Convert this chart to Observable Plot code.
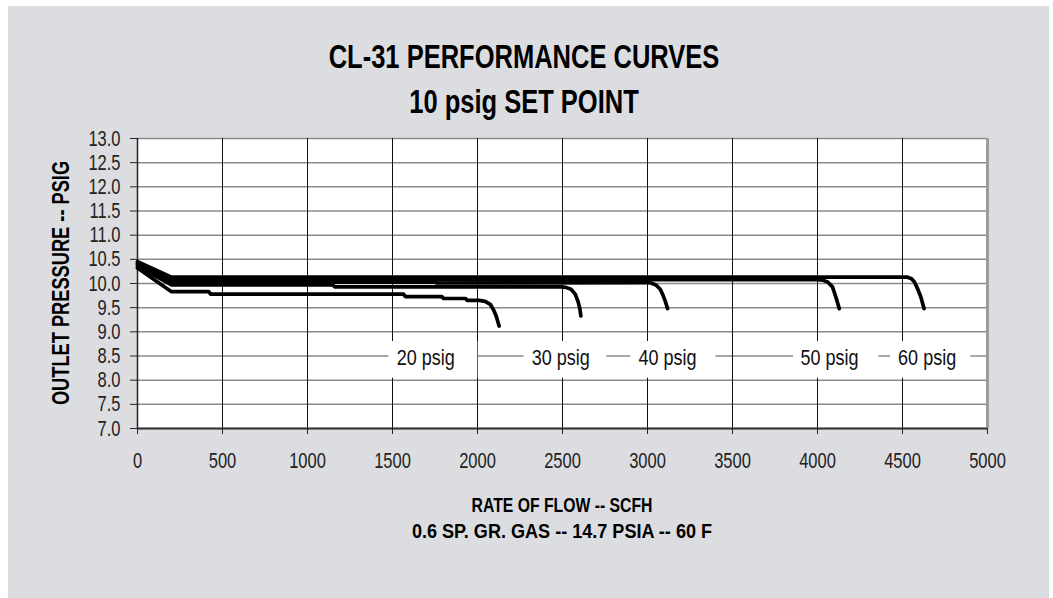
<!DOCTYPE html>
<html><head><meta charset="utf-8">
<script src="https://cdn.jsdelivr.net/npm/d3@7"></script>
<script src="https://cdn.jsdelivr.net/npm/@observablehq/plot@0.6"></script>
<style>
body{margin:0;background:#fff;width:1053px;height:598px;overflow:hidden;position:relative;font-family:"Liberation Sans",Arial,sans-serif;}
#panel{position:absolute;left:8px;top:6px;width:1041px;height:592px;background:#dcdde0;}
#chart{position:absolute;left:0;top:0;}
.t{position:absolute;left:0;width:1048px;text-align:center;font-weight:bold;line-height:1;white-space:nowrap;color:#000;transform:scaleX(0.75);transform-origin:50% 50%;}
.xt{width:1124px}
#ylab{position:absolute;left:61px;top:283px;transform:translate(-50%,-50%) rotate(-90deg) scaleX(0.76);font-weight:bold;font-size:24px;line-height:1;white-space:nowrap;color:#000;}
</style></head>
<body>
<div id="panel"></div>
<div id="chart"></div>
<div class="t" style="top:39px;font-size:34px">CL-31 PERFORMANCE CURVES</div>
<div class="t" style="top:84px;font-size:34px">10 psig SET POINT</div>
<div class="t xt" style="top:494px;font-size:21px">RATE OF FLOW -- SCFH</div>
<div class="t xt" style="top:520px;font-size:21px;transform:scaleX(0.86)">0.6 SP. GR. GAS -- 14.7 PSIA -- 60 F</div>
<div id="ylab">OUTLET PRESSURE -- PSIG</div>
<script>
// Series: inlet pressure curves (flow SCFH, outlet psig)
const flow20 = [0,200,420,430,1565,1575,1790,1800,1930,1940,2010,2045,2075,2095,2110,2127];
const pres20 = [10.32,9.83,9.83,9.78,9.78,9.73,9.73,9.69,9.69,9.65,9.65,9.63,9.57,9.45,9.33,9.12];
const flow30 = [0,200,1150,1160,2490,2520,2550,2575,2592,2602,2608];
const pres30 = [10.36,9.97,9.97,9.93,9.93,9.92,9.88,9.78,9.62,9.48,9.33];
const flow40 = [0,200,1750,1760,2990,3020,3050,3075,3092,3105,3118];
const pres40 = [10.39,10.03,10.03,10.01,10.02,10.01,9.97,9.88,9.75,9.63,9.48];
const flow50 = [0,200,4000,4030,4060,4088,4108,4128];
const pres50 = [10.42,10.08,10.08,10.07,10.03,9.93,9.72,9.48];
const flow60 = [0,200,4530,4553,4570,4588,4608,4627];
const pres60 = [10.45,10.13,10.13,10.1,10.03,9.9,9.72,9.48];

const labelText = ["20 psig","30 psig","40 psig","50 psig","60 psig"];
const labelX = [1696,2490,3118,4071,4645];
const labelY = 8.46;
const boxX1 = [1478,2274,2902,3860,4431];
const boxX2 = [2002,2760,3402,4361,4902];

const xTicks = d3.range(0,5001,500);
const yTicks = d3.range(7,13.001,0.5);

const series = [
  ["20 psig", flow20, pres20],
  ["30 psig", flow30, pres30],
  ["40 psig", flow40, pres40],
  ["50 psig", flow50, pres50],
  ["60 psig", flow60, pres60]
];
const rows = series.flatMap(([name, xs, ys]) => xs.map((x,i)=>({name, flow:x, p:ys[i]})));
const labels = labelText.map((t,i)=>({t, x:labelX[i], y:labelY, x1:boxX1[i], x2:boxX2[i]}));

const font = '"Liberation Sans",Arial,sans-serif';
const chart = Plot.plot({
  width:1053, height:598,
  marginLeft:137, marginRight:66, marginTop:138, marginBottom:170,
  style:{background:"transparent", fontFamily:font, fontSize:"22px", color:"#222"},
  x:{domain:[0,5000]},
  y:{domain:[7,13]},
  marks:[
    Plot.frame({fill:"white", stroke:null}),
    Plot.ruleY(yTicks, {stroke:"#8a8a8a", strokeWidth:1.5}),
    Plot.ruleX(xTicks.filter(d=>d>0&&d<5000), {stroke:"#111", strokeWidth:1}),
    Plot.rect(labels, {x1:"x1", x2:"x2", y1:8.04, y2:8.8, fill:"white"}),
    Plot.ruleX([5000], {stroke:"#9c9c9c", strokeWidth:3}),
    Plot.ruleX([0], {stroke:"#222", strokeWidth:1.5}),
    Plot.ruleY([7], {stroke:"#333", strokeWidth:2}),
    Plot.line(rows, {x:"flow", y:"p", z:"name", stroke:"#000", strokeWidth:3.7, strokeLinejoin:"round", strokeLinecap:"round"}),
    Plot.text(labels, {x:"x", y:"y", text:"t", fontSize:22, fill:"#111", className:"lbl"}),
    Plot.axisX({ticks:xTicks, tickSize:6, tickPadding:18, tickFormat:d=>String(d), label:null, fontSize:22}),
    Plot.axisY({ticks:yTicks, tickSize:7, tickPadding:10, tickFormat:d3.format(".1f"), label:null, fontSize:22})
  ]
});
// condense text horizontally around each text's anchor
chart.querySelectorAll("text").forEach(el => {
  const s = el.closest(".lbl") ? 0.82 : 0.75;
  const tr = el.getAttribute("transform");
  if (tr) {
    el.setAttribute("transform", tr + ` scale(${s},1)`);
  } else {
    const x = +el.getAttribute("x") || 0, y = +el.getAttribute("y") || 0;
    el.setAttribute("transform", `translate(${x},${y}) scale(${s},1) translate(${-x},${-y})`);
  }
});
document.getElementById("chart").appendChild(chart);
</script>
</body></html>
